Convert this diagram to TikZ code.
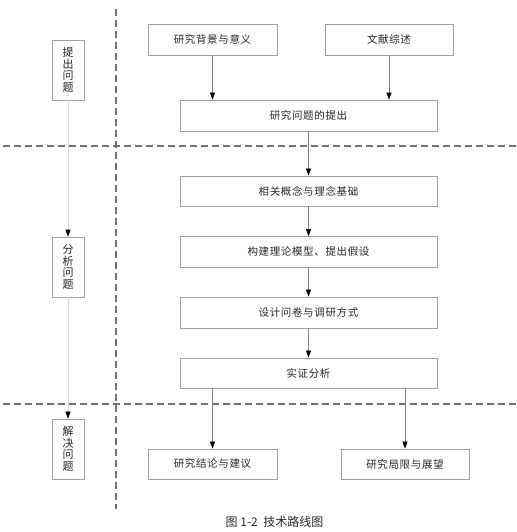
\documentclass[tikz,border=0pt]{standalone}
\usepackage{fontspec}
\newfontfamily\cjk{Noto Sans CJK SC}
\newfontfamily\cjksp[LetterSpace=6]{Noto Sans CJK SC}
\usetikzlibrary{arrows.meta}
\definecolor{boxline}{HTML}{A0A0A0}
\definecolor{conn}{HTML}{808080}
\definecolor{dashc}{HTML}{707070}
\definecolor{faint}{HTML}{D8D8D8}
\tikzset{
  stepbox/.style={draw=boxline, line width=0.8pt, minimum height=31pt, inner sep=0pt, font=\cjksp\fontsize{10.5}{12}\selectfont, text=black!85},
  sidebox/.style={draw=boxline, line width=0.8pt, minimum width=32pt, minimum height=60pt, inner sep=0pt, align=center, font=\cjk\fontsize{11}{11.5}\selectfont, text=black!85},
  flow/.style={draw=conn, line width=0.6pt, -{Triangle[length=7pt,width=5pt,fill=black,color=black]}},
  faintflow/.style={draw=faint, line width=0.6pt, -{Triangle[length=7pt,width=5pt,fill=black,color=black]}},
  divider/.style={draw=dashc, line width=1.3pt, dash pattern=on 7pt off 4pt}
}
\begin{document}
\begin{tikzpicture}[x=1pt,y=-1pt]
\useasboundingbox (0,0) rectangle (516,532);
% dividers
\coordinate (vt) at (116,9);
\coordinate (vb) at (116,509);
\coordinate (h1l) at (3,146);
\coordinate (h1r) at (516,146);
\coordinate (h2l) at (3,404);
\coordinate (h2r) at (516,404);
\draw[divider] (vt) -- (vb);
\draw[divider] (h1l) -- (h1r);
\draw[divider] (h2l) -- (h2r);
% side boxes
\node[sidebox] (tq) at (68,70) {提\\出\\问\\题};
\node[sidebox] (fx) at (68,267) {分\\析\\问\\题};
\node[sidebox] (jj) at (68,449) {解\\决\\问\\题};
% main boxes
\node[stepbox, minimum width=129pt] (bg) at (212.5,39.5) {研究背景与意义};
\node[stepbox, minimum width=128pt] (wx) at (389,39.5) {文献综述};
\node[stepbox, minimum width=257pt] (tc) at (308.5,115.5) {研究问题的提出};
\node[stepbox, minimum width=257pt, minimum height=30pt] (gn) at (308.5,191) {相关概念与理念基础};
\node[stepbox, minimum width=257pt] (gj) at (308.5,252) {构建理论模型、提出假设};
\node[stepbox, minimum width=257pt] (sj) at (308.5,312.5) {设计问卷与调研方式};
\node[stepbox, minimum width=257pt, minimum height=30pt] (sz) at (308.5,373) {实证分析};
\node[stepbox, minimum width=129pt, minimum height=30pt] (jl) at (212.5,464) {研究结论与建议};
\node[stepbox, minimum width=128pt, minimum height=30pt] (jx) at (405,464) {研究局限与展望};
% connectors
\draw[flow] (bg.south) -- (bg.south |- tc.north);
\draw[flow] (wx.south) -- (wx.south |- tc.north);
\draw[flow] (tc.south) -- (gn.north);
\draw[flow] (gn.south) -- (gj.north);
\draw[flow] (gj.south) -- (sj.north);
\draw[flow] (sj.south) -- (sz.north);
\draw[flow] (jl.north |- sz.south) -- (jl.north);
\draw[flow] (jx.north |- sz.south) -- (jx.north);
\draw[faintflow] (tq.south) -- (fx.north);
\draw[faintflow] (fx.south) -- (jj.north);
% caption
\node[font=\cjk\fontsize{12}{14}\selectfont, text=black!85] (cap) at (274.5,522) {图 1-2\ \ 技术路线图};
\end{tikzpicture}
\end{document}
